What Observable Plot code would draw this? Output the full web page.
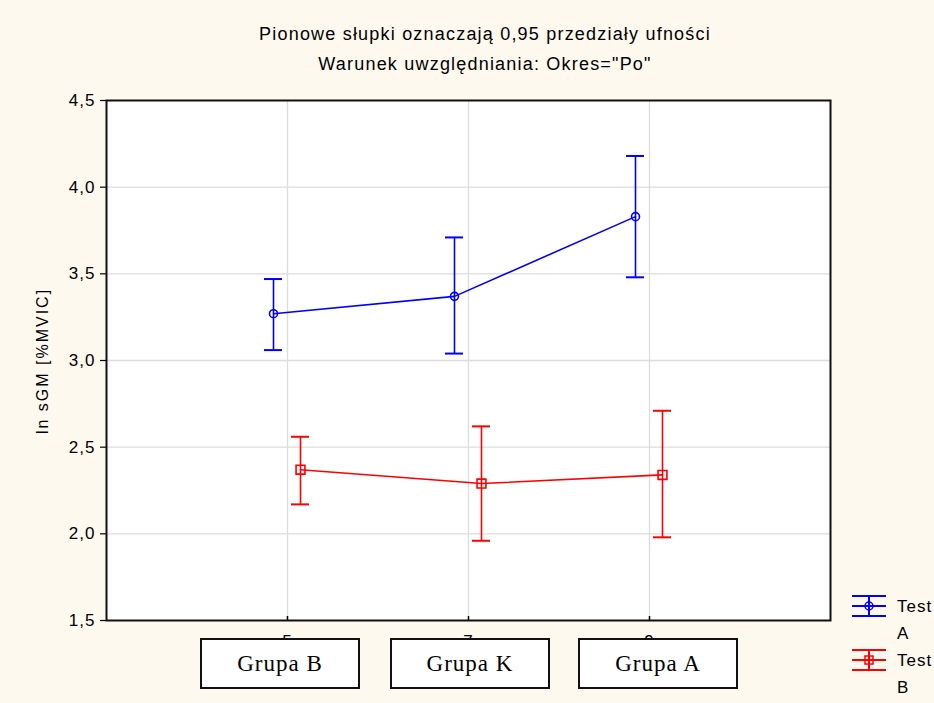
<!DOCTYPE html>
<html>
<head>
<meta charset="utf-8">
<script src="https://cdn.jsdelivr.net/npm/d3@7"></script>
<script src="https://cdn.jsdelivr.net/npm/@observablehq/plot@0.6"></script>
<style>
  html, body { margin: 0; padding: 0; background: #fdf9ef; overflow: hidden; }
  #wrap { position: relative; width: 934px; height: 703px; overflow: hidden;
          font-family: "Liberation Sans", Arial, sans-serif; color: #000; }
  #chart { position: absolute; left: 0; top: 0; }
  .title { position: absolute; left: 0; width: 970px; text-align: center;
           font-size: 18px; letter-spacing: 1.2px; white-space: nowrap; }
  .ylabel { position: absolute; left: 43px; top: 361px; font-size: 16px; letter-spacing: 2px;
            white-space: nowrap; transform: translate(-50%, -50%) rotate(-90deg); }
  .box { position: absolute; top: 638px; height: 47px; width: 156px; border: 2px solid #111;
         background: #fff; display: flex; align-items: center; justify-content: center;
         font-family: "Liberation Serif", "Times New Roman", serif; font-size: 23px; letter-spacing: 1px; }
  .legend-item { position: absolute; left: 850px; }
  .legend-item svg { position: absolute; left: 0; top: 0; }
  .legend-text { position: absolute; left: 47px; top: -1px; width: 44px; font-size: 17px;
                 line-height: 27px; letter-spacing: 1px; }
</style>
</head>
<body>
<div id="wrap">
  <div class="title" style="top:24px">Pionowe słupki oznaczają 0,95 przedziały ufności</div>
  <div class="title" style="top:54px">Warunek uwzględniania: Okres="Po"</div>
  <div class="ylabel">ln sGM [%MVIC]</div>
  <div id="chart"></div>
  <div id="boxes"></div>
  <div id="legend"></div>
</div>
<script>
// Group codes on the x axis and the group names written in the boxes under them
const codes = [5, 7, 9];
const groups = ["Grupa B", "Grupa K", "Grupa A"];

// Means with 0.95 confidence limits, one array per series
const seriesNames = ["Test A", "Test B"];
const testAMean = [3.27, 3.37, 3.83];
const testALow  = [3.06, 3.04, 3.48];
const testAHigh = [3.47, 3.71, 4.18];
const testBMean = [2.37, 2.29, 2.34];
const testBLow  = [2.17, 1.96, 1.98];
const testBHigh = [2.56, 2.62, 2.71];

// Y axis ticks
const yTicks = [1.5, 2.0, 2.5, 3.0, 3.5, 4.0, 4.5];

const seriesStyle = {
  "Test A": {color: "#0000ff", dx: -14, symbol: "circle", r: 4},
  "Test B": {color: "#ff0000", dx: 13, symbol: "square", r: 5}
};

const rows = [];
[[testAMean, testALow, testAHigh], [testBMean, testBLow, testBHigh]].forEach(([m, lo, hi], s) => {
  codes.forEach((c, i) => rows.push({series: seriesNames[s], code: c, group: groups[i],
                                      mean: m[i], low: lo[i], high: hi[i]}));
});

const fmt = d => d.toFixed(1).replace(".", ",");
const H = 703, mTop = 100, mBottom = 83;

const seriesMarks = seriesNames.flatMap(name => {
  const st = seriesStyle[name];
  const data = rows.filter(d => d.series === name);
  return [
    Plot.line(data, {x: "code", y: "mean", stroke: st.color, strokeWidth: 1.6, dx: st.dx}),
    Plot.ruleX(data, {x: "code", y1: "low", y2: "high", stroke: st.color, strokeWidth: 1.6, dx: st.dx}),
    Plot.ruleY(data, {x1: "code", x2: "code", y: "low", insetLeft: -9, insetRight: -9,
                      stroke: st.color, strokeWidth: 2, dx: st.dx}),
    Plot.ruleY(data, {x1: "code", x2: "code", y: "high", insetLeft: -9, insetRight: -9,
                      stroke: st.color, strokeWidth: 2, dx: st.dx}),
    Plot.dot(data, {x: "code", y: "mean", symbol: st.symbol, r: st.r, stroke: st.color,
                    fill: "none", strokeWidth: 1.6, dx: st.dx})
  ];
});

const chart = Plot.plot({
  width: 934,
  height: H,
  marginLeft: 106,
  marginRight: 104,
  marginTop: mTop,
  marginBottom: mBottom,
  style: {background: "transparent", fontFamily: "'Liberation Sans', Arial, sans-serif",
          fontSize: "17px", color: "#000", overflow: "visible"},
  x: {type: "linear", domain: [3, 11]},
  y: {domain: [1.5, 4.5]},
  marks: [
    Plot.frame({fill: "white"}),
    Plot.gridX(codes, {stroke: "#dddddd", strokeOpacity: 1, strokeWidth: 1.3}),
    Plot.gridY(yTicks.slice(1, -1), {stroke: "#dddddd", strokeOpacity: 1, strokeWidth: 1.3}),
    Plot.axisY(yTicks, {tickSize: 6, tickPadding: 5, tickFormat: fmt, label: null,
                        fontSize: 17, strokeWidth: 1.2}),
    Plot.axisX(codes, {tickSize: 0, tickPadding: 14, label: null, fontSize: 17}),
    Plot.tickX(codes, {x: d => d, insetTop: H - mTop - mBottom - 4, stroke: "#000", strokeWidth: 1.5}),
    Plot.frame({stroke: "#111", strokeWidth: 2}),
    ...seriesMarks
  ]
});
chart.querySelectorAll("text").forEach(t => { t.style.letterSpacing = "1px"; t.style.fontSize = "17px"; });
document.getElementById("chart").append(chart);

// Group name boxes under the x axis
const boxLeft = [200, 390, 578];
const boxes = document.getElementById("boxes");
groups.forEach((g, i) => {
  const b = document.createElement("div");
  b.className = "box";
  b.style.left = boxLeft[i] + "px";
  b.textContent = g;
  boxes.append(b);
});

// Legend: error-bar glyph with marker, then the series name
const legend = document.getElementById("legend");
seriesNames.forEach((name, i) => {
  const st = seriesStyle[name];
  const item = document.createElement("div");
  item.className = "legend-item";
  item.style.top = (594 + i * 54) + "px";
  const svg = d3.create("svg").attr("width", 40).attr("height", 26);
  const g = svg.append("g").attr("stroke", st.color).attr("stroke-width", 2).attr("fill", "none");
  [2, 12, 22].forEach(y => g.append("line").attr("x1", 2).attr("x2", 36).attr("y1", y).attr("y2", y));
  g.append("line").attr("x1", 19).attr("x2", 19).attr("y1", 2).attr("y2", 22);
  if (st.symbol === "circle") g.append("circle").attr("cx", 19).attr("cy", 12).attr("r", 4).attr("stroke-width", 1.5);
  else g.append("rect").attr("x", 15).attr("y", 8).attr("width", 8).attr("height", 8).attr("stroke-width", 1.5);
  item.append(svg.node());
  const t = document.createElement("div");
  t.className = "legend-text";
  t.textContent = name;
  item.append(t);
  legend.append(item);
});
</script>
</body>
</html>
